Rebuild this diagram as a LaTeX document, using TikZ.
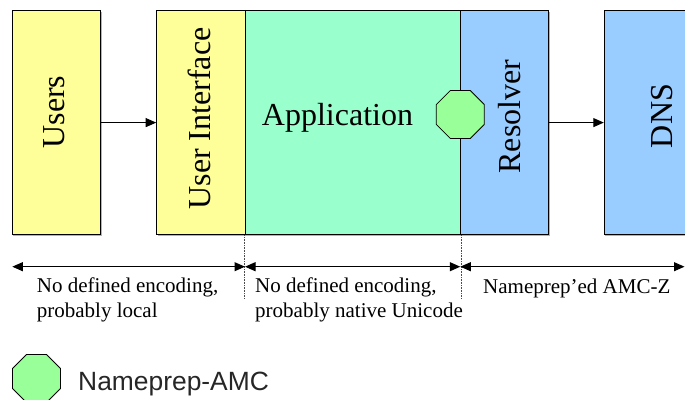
\documentclass[tikz,border=0pt]{standalone}
\usepackage{fontspec}
\setmainfont{Liberation Serif}
\setsansfont{Liberation Sans}
\usetikzlibrary{arrows.meta,shapes.geometric,shadows}

\definecolor{uiyellow}{HTML}{FFFF99}
\definecolor{appgreen}{HTML}{99FFCC}
\definecolor{dnsblue}{HTML}{99CCFF}
\definecolor{npgreen}{HTML}{99FF99}

\tikzset{
  layer/.style={draw=black, line width=1pt, minimum height=224.7pt, inner sep=0pt,
    drop shadow={shadow xshift=1pt, shadow yshift=-1.5pt, opacity=0.6}},
  layer text/.style={rotate=90, inner sep=0pt, font=\fontsize{32}{38}\selectfont},
  nameprep/.style={regular polygon, regular polygon sides=8, minimum size=52pt,
    inner sep=0pt, draw=black, line width=0.8pt, fill=npgreen},
  flow/.style={-{Triangle[length=10.5pt,width=9pt]}, line width=1pt},
  span/.style={{Triangle[length=10.5pt,width=9pt]}-{Triangle[length=10.5pt,width=9pt]}, line width=1pt},
  span text/.style={anchor=north west, align=left, inner sep=0pt,
    font=\fontsize{21}{25.3}\selectfont},
  cut line/.style={densely dotted, line width=0.6pt, black!70}
}

\begin{document}
\begin{tikzpicture}[y=-1pt, x=1pt]
      \useasboundingbox (0,0) rectangle (685,399);
      \clip (0,0) rectangle (685,399);
      \begin{scope}[shift={(0,0)}]
        %% layers
        \node[layer, fill=uiyellow, minimum width=88.4pt] (users) at (56.5,122.6) {};
        \node[layer, fill=uiyellow, minimum width=88.3pt] (ui) at (200.85,122.6) {};
        \node[layer, fill=appgreen, minimum width=215.3pt] (app) at (352.65,122.6) {};
        \node[layer, fill=dnsblue, minimum width=88.4pt] (resolver) at (504.5,122.6) {};
        \node[layer, fill=dnsblue, minimum width=120pt] (dns) at (664.3,122.6) {};

        \node[layer text] (users text) at (54.3,112) {Users};
        \node[layer text] (ui text) at (199,118.5) {User Interface};
        \node[layer text] (resolver text) at (509.7,116.5) {Resolver};
        \node[layer text] (dns text) at (662.5,116) {DNS};
        \node[anchor=base, inner sep=0pt, font=\fontsize{32}{38}\selectfont]
             (app text) at (337.5,125.7) {Application};

        \draw[flow] (users) -- (ui);
        \draw[flow] (resolver) -- (dns);

        \node[nameprep] (np) at (460.3,114.5) {};

        %% encodings
        \draw[cut line] (app.south west) -- ++(0,63) coordinate (cut a);
        \draw[cut line] (app.south east) -- ++(0,63) coordinate (cut b);

        \coordinate (span 0) at (12.3,266.7);
        \coordinate (span 1) at (245,266.7);
        \coordinate (span 2) at (460.3,266.7);
        \coordinate (span 3) at (684.5,266.7);
        \foreach \i/\j in {0/1,1/2,2/3} {
          \draw[span] (span \i) -- (span \j); }

        \node[span text] (enc local) at (36.7,277.4) {No defined encoding,\\probably local};
        \node[span text] (enc native) at (255,277.4) {No defined encoding,\\probably native Unicode};
        \node[span text] (enc amcz) at (483,278.7) {Nameprep’ed AMC-Z};

        %% legend
        \node[nameprep] (np legend) at (36.5,378.5) {};
        \node[anchor=base west, inner sep=0pt, text=black!85,
              font=\sffamily\fontsize{26.4}{30}\selectfont] (np label) at (78,390) {Nameprep-AMC};
      \end{scope}

      \end{tikzpicture}
\end{document}
